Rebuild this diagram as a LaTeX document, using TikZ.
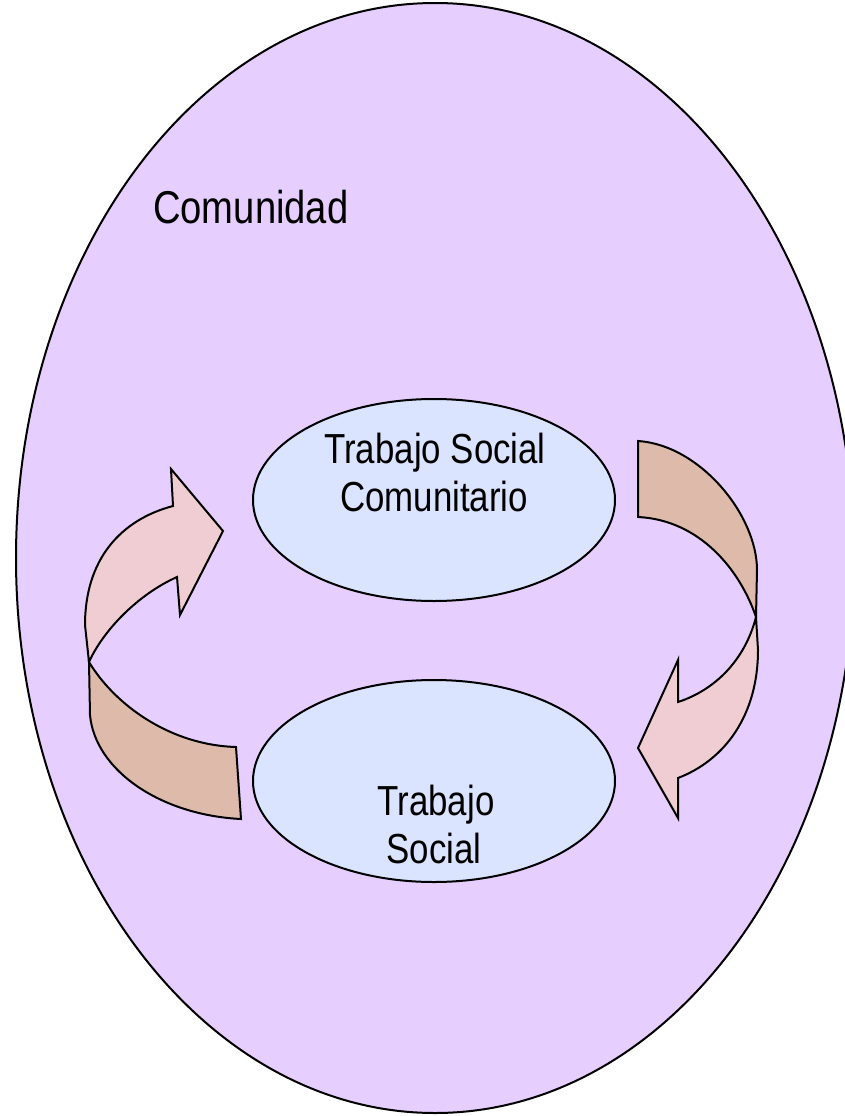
\documentclass[tikz,border=0pt]{standalone}
\usepackage{fontspec}
\setmainfont{Liberation Sans}[FakeStretch=0.83]
\usetikzlibrary{shapes.geometric}
\definecolor{lav}{HTML}{E6CEFF}
\definecolor{inblue}{HTML}{DBE4FF}
\definecolor{arlight}{HTML}{F0CDD3}
\definecolor{ardark}{HTML}{DDBAA9}
\tikzset{
  bigell/.style={draw=black, line width=2pt, fill=lav, ellipse, inner sep=0pt},
  smallell/.style={draw=black, line width=2pt, fill=inblue, ellipse, inner sep=0pt,
    minimum width=362pt, minimum height=202pt},
  lbl/.style={inner sep=0pt, anchor=base, font=\fontsize{42}{48}\selectfont},
  arrlight/.style={draw=black, line width=2pt, fill=arlight, line join=miter},
  arrdark/.style={draw=black, line width=2pt, fill=ardark, line join=miter}
}
\begin{document}
\begin{tikzpicture}[x=1pt,y=-1pt]
\useasboundingbox (0,0) rectangle (845,1116);
\clip (0,0) rectangle (845,1116);
% community
\node[bigell, minimum width=838pt, minimum height=1110pt] (com) at (435,558) {};
\node[inner sep=0pt, anchor=base west, font=\fontsize{46}{52}\selectfont] (comlbl) at (153,223) {Comunidad};
% inner ellipses
\node[smallell] (tsc) at (434,500) {};
\node[smallell] (ts) at (434,781) {};
\node[lbl] (tsc1) at (435,463) {Trabajo Social};
\node[lbl] (tsc2) at (434,511) {Comunitario};
\node[lbl] (ts1) at (436,815) {Trabajo};
\node[lbl] (ts2) at (434,863) {Social};
% left curved arrow: back (dark) part
\draw[arrdark] (89,662) -- (90,715)
  .. controls (95,770) and (160,815) .. (241,819)
  -- (236,747)
  .. controls (170,745) and (115,705) .. (89,662) -- cycle;
% left curved arrow: front (light) part
\draw[arrlight] (89,662)
  .. controls (104,629) and (139,594) .. (177,577)
  -- (180,615) -- (223,531) -- (171,469) -- (173,506)
  .. controls (120,520) and (85,560) .. (85,625)
  -- cycle;
% right curved arrow: back (dark) part
\draw[arrdark] (638,441)
  .. controls (700,445) and (757,515) .. (757,570)
  -- (756,617)
  .. controls (740,570) and (700,520) .. (638,517)
  -- cycle;
% right curved arrow: front (light) part
\draw[arrlight] (756,617)
  .. controls (745,660) and (715,690) .. (678,702)
  -- (678,660) -- (638,748) -- (678,818) -- (678,778)
  .. controls (725,760) and (758,715) .. (758,650)
  -- cycle;
\end{tikzpicture}
\end{document}
